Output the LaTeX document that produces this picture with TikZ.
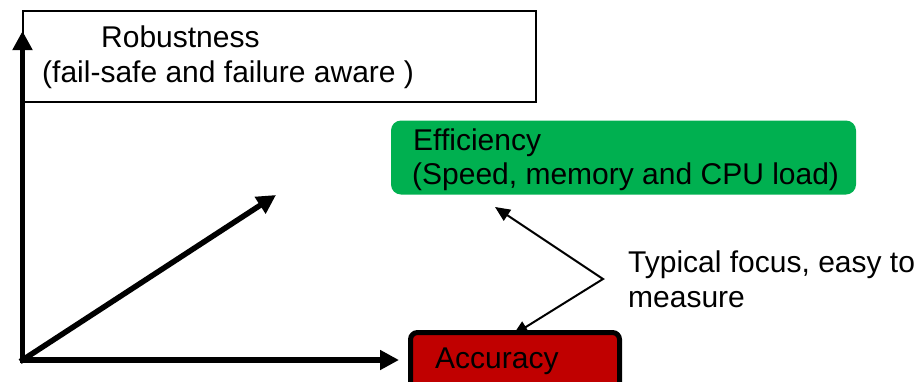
\documentclass[tikz,border=0pt]{standalone}
\usepackage{fontspec}
\setmainfont{Liberation Sans}
\usetikzlibrary{arrows.meta}
\definecolor{effgreen}{RGB}{0,176,80}
\definecolor{accred}{RGB}{192,0,0}
\begin{document}
\begin{tikzpicture}[x=1pt,y=-1pt,
  txt/.style={anchor=base west, inner sep=0pt, font=\fontsize{30pt}{35pt}\selectfont},
  robbox/.style={draw=black, line width=2pt, minimum width=513pt, minimum height=91pt, inner sep=0pt},
  effbox/.style={fill=effgreen, rounded corners=10pt, minimum width=465pt, minimum height=74pt, inner sep=0pt},
  accbox/.style={draw=black, fill=accred, line width=5pt, rounded corners=7pt, minimum width=209pt, minimum height=60pt, inner sep=0pt},
  axis/.style={line width=5.5pt, line cap=rect, -{Triangle[length=19pt,width=19pt]}},
  pointer/.style={line width=2pt, line join=miter, {Triangle[length=15pt,width=13pt]}-{Triangle[length=15pt,width=13pt]}}
]
\clip (0,0) rectangle (924,381);
\fill[white] (0,0) rectangle (924,381);

% boxes
\node[robbox] (rob) at (279.5,56.5) {};
\node[effbox] (eff) at (623.5,157.5) {};

% pointer arrows (drawn before the accuracy box, which covers the lower tip)
\coordinate (v) at (603,279);
\coordinate (etip) at (495,207);
\coordinate (atip) at (513,335);
\draw[pointer] (etip) -- (v) -- (atip);

\node[accbox] (acc) at (515,362.5) {};

% axes
\coordinate (O) at (22.5,360);
\coordinate (ytip) at (22.5,31);
\coordinate (xtip) at (399,360);
\coordinate (ztip) at (276,195);
\draw[axis] (O) -- (ytip);
\draw[axis] (O) -- (xtip);
\draw[axis] (O) -- (ztip);

% texts
\node[txt] (robt1) at (101,47) {Robustness};
\node[txt] (robt2) at (42,82) {(fail-safe and failure aware )};
\node[txt] (efft1) at (413,150.5) {Efficiency};
\node[txt] (efft2) at (412,184) {(Speed, memory and CPU load)};
\node[txt] (acct) at (435,368) {Accuracy};
\node[txt] (lab1) at (628,272) {Typical focus, easy to};
\node[txt] (lab2) at (628,307) {measure};
\end{tikzpicture}
\end{document}
